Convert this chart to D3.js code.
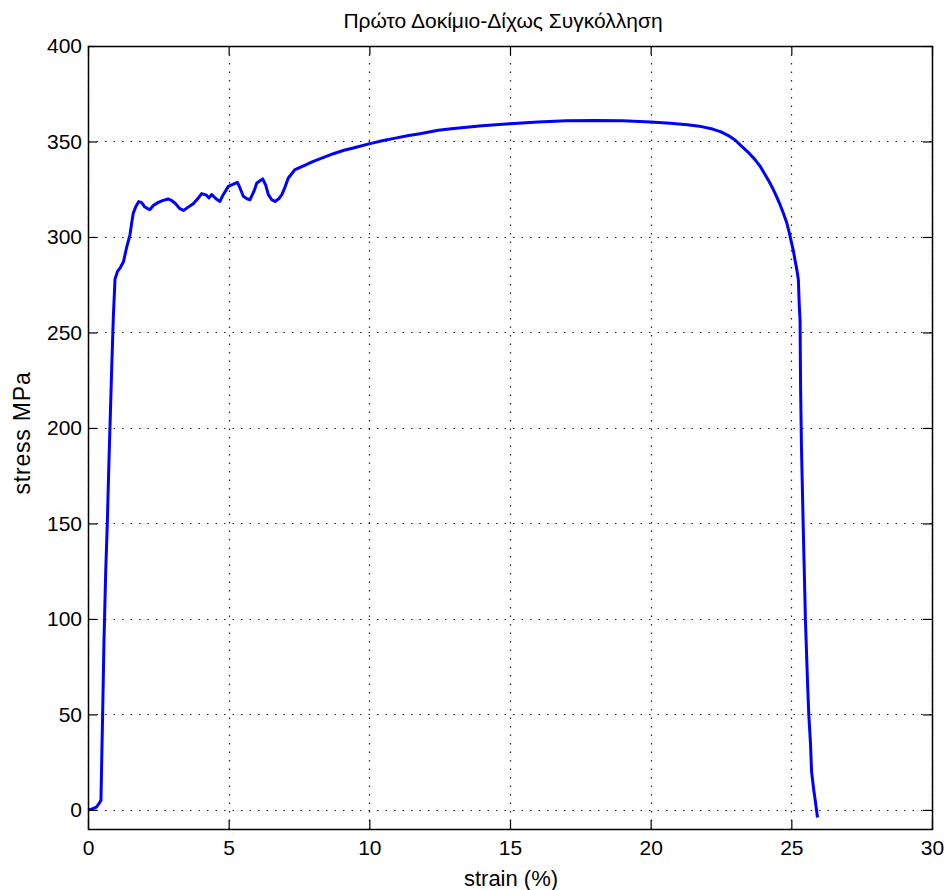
<!DOCTYPE html>
<html>
<head>
<meta charset="utf-8">
<script src="https://cdn.jsdelivr.net/npm/d3@7"></script>
<style>
  html, body { margin: 0; padding: 0; background: #fff; }
  svg { display: block; }
  text { font-family: "Liberation Sans", Arial, sans-serif; fill: #000; }
</style>
</head>
<body>
<svg id="chart" width="946" height="890"></svg>
<script>
// Tensile test: stress vs strain
const strain = [0, 0.15, 0.3, 0.4, 0.46, 0.48, 0.52, 0.57, 0.63, 0.69, 0.74, 0.78, 0.84, 0.9, 0.96,
  1.05, 1.15, 1.26, 1.38, 1.49, 1.56, 1.61, 1.7, 1.8, 1.91, 2.0, 2.1, 2.2, 2.32, 2.5, 2.65, 2.85,
  2.98, 3.09, 3.25, 3.39, 3.55, 3.74, 3.9, 4.04, 4.2, 4.3, 4.4, 4.55, 4.69, 4.8, 4.99, 5.15, 5.31,
  5.42, 5.52, 5.65, 5.76, 5.9, 6.0, 6.21, 6.32, 6.41, 6.53, 6.65, 6.78, 6.89, 7.0, 7.12, 7.36, 7.7,
  8.01, 8.4, 8.72, 9.1, 9.43, 10.02, 10.5, 10.97, 11.4, 11.8, 12.45, 13, 14, 15, 16, 17, 18, 19, 20,
  20.7, 21.3, 21.8, 22.2, 22.5, 22.8, 23.0, 23.17, 23.45, 23.71, 23.9, 24.07, 24.22, 24.36, 24.48, 24.6, 24.72,
  24.84, 24.93, 25.01, 25.08, 25.13, 25.2, 25.25, 25.28, 25.31, 25.33, 25.36, 25.42, 25.5, 25.58,
  25.62, 25.68, 25.72, 25.8, 25.85, 25.93];
const stress = [0, 0.5, 1.5, 3.5, 5, 20, 50, 90, 125, 152, 180, 200, 230, 258, 278,
  282, 284, 287, 295, 301, 308, 312.5, 316, 318.5, 318, 316, 315, 314.3, 316.5, 318.1, 319, 319.9,
  319, 317.8, 315, 313.9, 315.5, 317.4, 320, 322.7, 322, 320.5, 322.2, 320, 318.6, 322, 326.5, 327.5, 328.6,
  325, 321.3, 320, 319.5, 324, 328.3, 330.4, 327, 322.2, 319.5, 318.6, 320, 322.2, 326, 330.9, 335.3, 337.5,
  339.6, 341.8, 343.6, 345.4, 346.6, 348.9, 350.5, 351.9, 353.1, 354.1, 355.9, 356.8, 358.2, 359.3, 360.2, 360.8, 361, 360.8, 360.2,
  359.5, 358.8, 357.8, 356.5, 355, 352.8, 350.8, 348.4, 344.6, 340.5, 336.8, 332.6, 328.8, 324.8, 321, 316.9, 312.3,
  307.3, 302, 296.8, 292.2, 288, 282.5, 277.6, 265, 256.6, 220, 190, 150, 100, 65,
  50, 35, 20, 10, 5, -4];

const xTicks = [0, 5, 10, 15, 20, 25, 30];
const yTicks = [0, 50, 100, 150, 200, 250, 300, 350, 400];
const titleText = "Πρώτο Δοκίμιο-Δίχως Συγκόλληση";
const xLabel = "strain (%)";
const yLabel = "stress MPa";

const svg = d3.select("#chart");
const plotL = 88, plotR = 932, plotT = 46, plotB = 829;

const x = d3.scaleLinear().domain([0, 30]).range([plotL, plotR]);
const y = d3.scaleLinear().domain([-10, 400]).range([plotB, plotT]);

// dotted grid
const grid = svg.append("g");
grid.selectAll("line.gx").data(xTicks).join("line")
  .attr("x1", d => Math.round(x(d)) + 0.5).attr("x2", d => Math.round(x(d)) + 0.5)
  .attr("y1", plotT).attr("y2", plotB)
  .attr("stroke", "#222").attr("stroke-width", 1.2).attr("stroke-dasharray", "1.5,7");
grid.selectAll("line.gy").data(yTicks).join("line")
  .attr("y1", d => Math.round(y(d)) + 0.5).attr("y2", d => Math.round(y(d)) + 0.5)
  .attr("x1", plotL).attr("x2", plotR)
  .attr("stroke", "#222").attr("stroke-width", 1.2).attr("stroke-dasharray", "1.5,7");

// curve
const pts = strain.map((s, i) => [s, stress[i]]);
svg.append("path").datum(pts)
  .attr("fill", "none").attr("stroke", "#0000ff").attr("stroke-width", 3)
  .attr("stroke-linejoin", "round")
  .attr("d", d3.line().x(d => x(d[0])).y(d => y(d[1])));

// axes with inward ticks on all sides
const tickLen = 9;
const fs = "21px";
const bottomAxis = d3.axisBottom(x).tickValues(xTicks).tickSizeInner(-tickLen).tickSizeOuter(0).tickPadding(11);
const leftAxis = d3.axisLeft(y).tickValues(yTicks).tickSizeInner(-tickLen).tickSizeOuter(0).tickPadding(6);
const topAxis = d3.axisTop(x).tickValues(xTicks).tickSizeInner(-tickLen).tickSizeOuter(0).tickFormat("");
const rightAxis = d3.axisRight(y).tickValues(yTicks).tickSizeInner(-tickLen).tickSizeOuter(0).tickFormat("");

function styleAxis(g) {
  g.select(".domain").remove();
  g.selectAll(".tick line").attr("stroke", "#000").attr("stroke-width", 1.2);
  g.selectAll(".tick text").style("font-size", fs).attr("fill", "#000");
}
svg.append("g").attr("transform", `translate(0,${plotB})`).call(bottomAxis).call(styleAxis);
svg.append("g").attr("transform", `translate(${plotL},0)`).call(leftAxis).call(styleAxis);
svg.append("g").attr("transform", `translate(0,${plotT})`).call(topAxis).call(styleAxis);
svg.append("g").attr("transform", `translate(${plotR},0)`).call(rightAxis).call(styleAxis);

// frame
svg.append("rect").attr("x", plotL + 0.5).attr("y", plotT + 0.5)
  .attr("width", plotR - plotL).attr("height", plotB - plotT)
  .attr("fill", "none").attr("stroke", "#000").attr("stroke-width", 1.5);

// titles
svg.append("text").attr("x", 503).attr("y", 28).attr("text-anchor", "middle")
  .style("font-size", "21px").text(titleText);
svg.append("text").attr("x", 511).attr("y", 886).attr("text-anchor", "middle")
  .style("font-size", "22px").text(xLabel);
svg.append("text").attr("transform", "translate(30,433) rotate(-90)").attr("text-anchor", "middle")
  .style("font-size", "23px").style("letter-spacing", "0.8px").text(yLabel);
</script>
</body>
</html>
